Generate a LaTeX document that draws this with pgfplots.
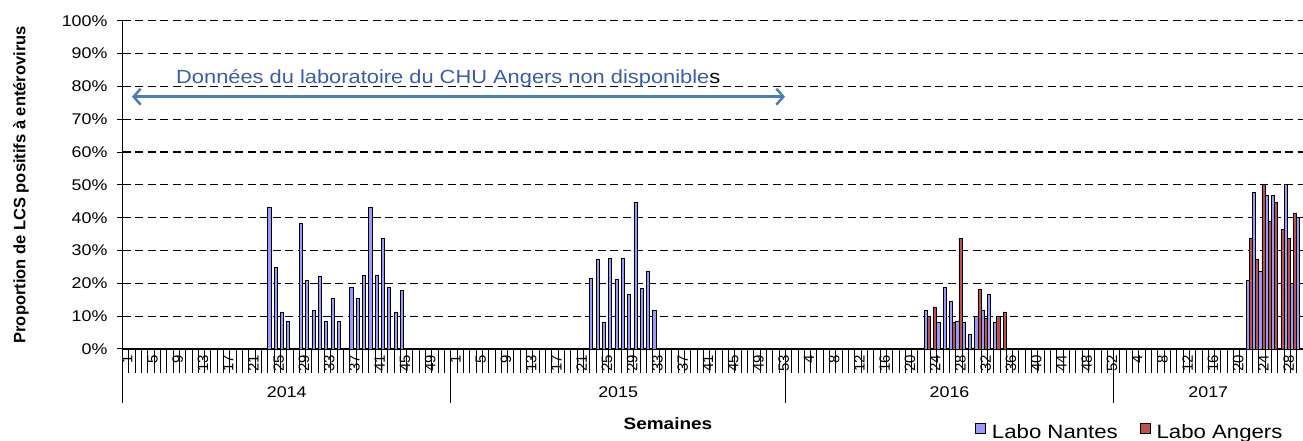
\documentclass[border=0pt]{standalone}
\usepackage{pgfplots}
\pgfplotsset{compat=1.18}
\usepackage{fontspec}
\setmainfont{Liberation Sans}
\usetikzlibrary{arrows.meta}
\definecolor{nantes}{RGB}{153,153,255}
\definecolor{angers}{RGB}{192,80,77}
\definecolor{arrowblue}{RGB}{74,126,187}
\definecolor{txtblue}{RGB}{58,93,168}
\newcommand{\sx}[1]{\scalebox{1.15}[1]{#1}}
\begin{document}
\begin{tikzpicture}
\useasboundingbox (0,0) rectangle (1303pt,441pt);
\begin{axis}[
  at={(122.6pt,92pt)}, anchor=south west,
  scale only axis, width=1180.4pt, height=328.3pt,
  xmin=-0.5, xmax=186.5, ymin=0, ymax=100,
  clip=false,
  axis x line*=bottom, axis y line*=left,
  axis line style={black, line width=1.1pt},
  tick align=outside,
  every tick/.style={black, line width=1pt},
  major tick length=6pt,
  minor tick length=24pt,
  ytick={0,10,...,100},
  yticklabels={\sx{0\%},\sx{10\%},\sx{20\%},\sx{30\%},\sx{40\%},\sx{50\%},\sx{60\%},\sx{70\%},\sx{80\%},\sx{90\%},\sx{100\%}},
  yticklabel style={anchor=east, inner sep=0pt, xshift=-9pt, font=\fontsize{15.5}{16}\selectfont},
  ymajorgrids,
  grid style={black, dash pattern=on 8pt off 4.5pt, line width=1.1pt},
  xtick={0,4,...,184},
  xticklabels={1,5,9,13,17,21,25,29,33,37,41,45,49,1,5,9,13,17,21,25,29,33,37,41,45,49,53,4,8,12,16,20,24,28,32,36,40,44,48,52,4,8,12,16,20,24,28},
  major x tick style={draw=none},
  minor xtick={-0.5,0.5,...,186.5},
  xticklabel style={rotate=90, anchor=east, inner sep=0pt, yshift=-1.5pt, font=\fontsize{15}{15}\selectfont},
  xlabel={\sx{Semaines}},
  every axis x label/.style={at={(axis description cs:0.462,-0.2284)}, anchor=center, font=\bfseries\fontsize{16.5}{17}\selectfont},
  ylabel={Proportion de LCS positifs à entérovirus},
  every axis y label/.style={at={(axis description cs:-0.0861,0.5)}, rotate=90, anchor=center, font=\bfseries\fontsize{16.5}{17}\selectfont},
  legend columns=2,
  legend style={draw=none, fill=none, inner sep=0pt, font=\fontsize{19.3}{20}\selectfont,
    at={(axis description cs:0.7221,-0.2802)}, anchor=south west,
    nodes={inner sep=1pt},
    /tikz/every odd column/.append style={column sep=5pt},
    /tikz/every even column/.append style={column sep=21pt}},
]
\addplot[ybar, bar width=3.156pt, bar shift=-1.578pt, fill=nantes, draw=black, line width=0.8pt,
  legend image code/.code={\draw[fill=nantes, draw=black, line width=0.8pt] (0pt,-1pt) rectangle (10pt,9pt);}]
coordinates {
(23,43.0) (24,24.9) (25,11.3) (26,8.4) (28,38.2) (29,20.8) (30,11.8) (31,22.0) (32,8.4) (33,15.4) (34,8.4)
(36,18.8) (37,15.4) (38,22.4) (39,43.0) (40,22.4) (41,33.6) (42,18.8) (43,11.3) (44,17.9)
(74,21.6) (75,27.3) (76,8.0) (77,27.7) (78,21.2) (79,27.7) (80,16.7) (81,44.7) (82,18.4) (83,23.7) (84,11.7)
(127,11.7) (129,8.0) (130,18.7) (131,14.6) (132,8.3) (133,8.0) (134,4.3) (135,10.0) (136,11.7) (137,16.6) (138,8.0)
(178,20.8) (179,47.6) (180,23.5) (181,46.8) (182,46.8) (184,50.0) (185,20.0) (186,40.2)
};
\addlegendentry{\sx{Labo Nantes}}
\addplot[ybar, bar width=3.156pt, bar shift=1.578pt, fill=angers, draw=black, line width=0.8pt,
  legend image code/.code={\draw[fill=angers, draw=black, line width=0.8pt] (0pt,-1pt) rectangle (10pt,9pt);}]
coordinates {
(127,10.0) (128,12.6) (131,8.0) (132,33.6) (135,18.3) (136,9.3) (138,10.0) (139,11.3)
(178,33.6) (179,27.3) (180,50.0) (181,39.0) (182,44.7) (183,36.5) (184,33.6) (185,41.4)
};
\addlegendentry{\sx{Labo Angers}}
\draw[black, line width=1pt] (axis cs:-0.5,0) -- ++(0pt,-54pt);
\draw[black, line width=1pt] (axis cs:51.5,0) -- ++(0pt,-54pt);
\draw[black, line width=1pt] (axis cs:104.5,0) -- ++(0pt,-54pt);
\draw[black, line width=1pt] (axis cs:156.5,0) -- ++(0pt,-54pt);
\node[anchor=base, inner sep=0pt, font=\fontsize{15.5}{16}\selectfont, yshift=-49pt] at (axis cs:25.5,0) {\sx{2014}};
\node[anchor=base, inner sep=0pt, font=\fontsize{15.5}{16}\selectfont, yshift=-49pt] at (axis cs:78,0) {\sx{2015}};
\node[anchor=base, inner sep=0pt, font=\fontsize{15.5}{16}\selectfont, yshift=-49pt] at (axis cs:130.5,0) {\sx{2016}};
\node[anchor=base, inner sep=0pt, font=\fontsize{15.5}{16}\selectfont, yshift=-49pt] at (axis cs:171.5,0) {\sx{2017}};
\end{axis}
\node[anchor=base west, inner sep=0pt, font=\fontsize{19}{20}\selectfont, text=txtblue] at (176pt,357pt) {\sx{Données du laboratoire du CHU Angers non disponible\textcolor{black}{s}}};
\draw[arrowblue, line width=2.5pt, {Straight Barb[length=7pt,width=16pt]}-{Straight Barb[length=7pt,width=16pt]}] (132pt,344.3pt) -- (785pt,344.3pt);
\end{tikzpicture}
\end{document}
